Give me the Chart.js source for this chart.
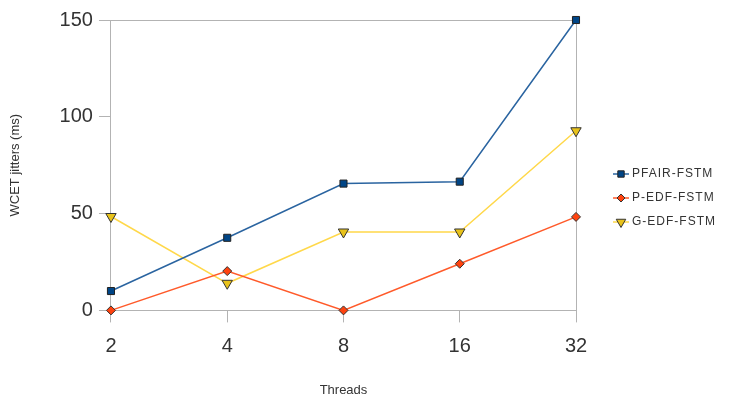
<!DOCTYPE html>
<html>
<head>
<meta charset="utf-8">
<script src="https://cdn.jsdelivr.net/npm/chart.js@4"></script>
<style>
  html, body { margin: 0; padding: 0; background: #fff; }
</style>
</head>
<body>
<canvas id="myChart" width="750" height="401"></canvas>
<script>
// data
var threads = ["2", "4", "8", "16", "32"];
var pfair = [10, 37.5, 65.5, 66.5, 150];
var pedf = [0, 20.3, 0, 24.1, 48.3];
var gedf = [48.5, 14, 40.5, 40.5, 92.8];
var yTicks = [0, 50, 100, 150];

// frame around the plot + legend on the right
var framePlugin = {
  id: "frame",
  beforeDatasetsDraw: function(chart) {
    var ctx = chart.ctx;
    var a = chart.chartArea;
    ctx.save();
    ctx.strokeStyle = "#b3b3b3";
    ctx.lineWidth = 1;
    ctx.beginPath();
    ctx.moveTo(a.left, a.top + 0.5);
    ctx.lineTo(a.right + 0.5, a.top + 0.5);
    ctx.lineTo(a.right + 0.5, a.bottom);
    ctx.stroke();
    ctx.restore();
  },
  afterDraw: function(chart) {
    var ctx = chart.ctx;
    var a = chart.chartArea;
    ctx.save();
    var x0 = a.right + 37;
    var y0 = 174;
    ctx.font = "12px 'Liberation Sans', Arial, sans-serif";
    ctx.letterSpacing = "1px";
    ctx.textBaseline = "middle";
    chart.data.datasets.forEach(function(ds, i) {
      var y = y0 + i * 24;
      ctx.strokeStyle = ds.borderColor;
      ctx.lineWidth = 1.5;
      ctx.beginPath();
      ctx.moveTo(x0, y);
      ctx.lineTo(x0 + 16, y);
      ctx.stroke();
      ctx.fillStyle = ds.pointBackgroundColor;
      ctx.strokeStyle = ds.pointBorderColor;
      ctx.lineWidth = 1;
      Chart.helpers.drawPoint(ctx, {
        pointStyle: ds.pointStyle,
        radius: ds.pointRadius - 0.5,
        rotation: ds.pointRotation || 0,
        borderWidth: 1
      }, x0 + 8, y);
      ctx.fillStyle = "#333";
      ctx.fillText(ds.label, x0 + 19, y);
    });
    ctx.restore();
  }
};

var ctx = document.getElementById("myChart").getContext("2d");
var chart = new Chart(ctx, {
  type: "line",
  data: {
    labels: threads,
    datasets: [
      {
        label: "PFAIR-FSTM",
        data: pfair,
        clip: false,
        borderColor: "#2a64a0",
        borderWidth: 1.5,
        pointStyle: "rect",
        pointRadius: 5,
        pointBackgroundColor: "#004586",
        pointBorderColor: "#222",
        pointBorderWidth: 1,
        tension: 0
      },
      {
        label: "P-EDF-FSTM",
        data: pedf,
        clip: false,
        borderColor: "#ff5a2a",
        borderWidth: 1.5,
        pointStyle: "rectRot",
        pointRadius: 4.5,
        pointBackgroundColor: "#ff420e",
        pointBorderColor: "#333",
        pointBorderWidth: 1,
        tension: 0
      },
      {
        label: "G-EDF-FSTM",
        data: gedf,
        clip: false,
        borderColor: "#ffd84a",
        borderWidth: 1.5,
        pointStyle: "triangle",
        pointRotation: 180,
        pointRadius: 6,
        pointBackgroundColor: "#e8c21a",
        pointBorderColor: "#333",
        pointBorderWidth: 1,
        tension: 0
      }
    ]
  },
  options: {
    responsive: false,
    animation: false,
    layout: {
      padding: { left: 8, right: 174, top: 20, bottom: 3 }
    },
    plugins: {
      legend: { display: false },
      tooltip: { enabled: false }
    },
    scales: {
      x: {
        offset: false,
        grid: {
          drawOnChartArea: false,
          drawTicks: true,
          tickLength: 12,
          color: "#b3b3b3"
        },
        border: { color: "#b3b3b3" },
        ticks: {
          color: "#333",
          padding: 12,
          font: { family: "'Liberation Sans', Arial, sans-serif", size: 20 }
        },
        title: {
          display: true,
          text: "Threads",
          color: "#333",
          padding: { top: 12, bottom: 0 },
          font: { family: "'Liberation Sans', Arial, sans-serif", size: 13 }
        }
      },
      y: {
        min: 0,
        max: 150,
        afterBuildTicks: function(axis) {
          axis.ticks = yTicks.map(function(v) { return { value: v }; });
        },
        grid: {
          drawOnChartArea: false,
          drawTicks: true,
          tickLength: 12,
          color: "#b3b3b3"
        },
        border: { color: "#b3b3b3" },
        ticks: {
          color: "#333",
          padding: 6,
          font: { family: "'Liberation Sans', Arial, sans-serif", size: 20 }
        },
        title: {
          display: true,
          text: "WCET jitters (ms)",
          color: "#333",
          padding: { top: 0, bottom: 30 },
          font: { family: "'Liberation Sans', Arial, sans-serif", size: 13 }
        }
      }
    }
  },
  plugins: [framePlugin]
});
</script>
</body>
</html>
